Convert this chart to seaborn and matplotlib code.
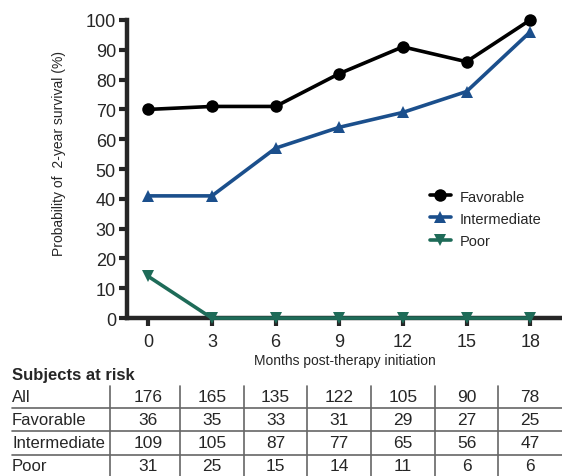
import matplotlib
matplotlib.use("Agg")
import matplotlib.pyplot as plt
import matplotlib.transforms as mtransforms
import pandas as pd
import seaborn as sns

# ── Data ──
months = [0, 3, 6, 9, 12, 15, 18]
favorable = [70, 71, 71, 82, 91, 86, 100]
intermediate = [41, 41, 57, 64, 69, 76, 96]
poor = [14, 0, 0, 0, 0, 0, 0]
groups = ["Favorable", "Intermediate", "Poor"]

risk_rows = ["All", "Favorable", "Intermediate", "Poor"]
risk_all = [176, 165, 135, 122, 105, 90, 78]
risk_fav = [36, 35, 33, 31, 29, 27, 25]
risk_int = [109, 105, 87, 77, 65, 56, 47]
risk_poor = [31, 25, 15, 14, 11, 6, 6]

colors = {"Favorable": "#000000", "Intermediate": "#1b4f8c", "Poor": "#1e6b58"}
markers = {"Favorable": "o", "Intermediate": "^", "Poor": "v"}

df = pd.DataFrame({
    "month": months * 3,
    "survival": favorable + intermediate + poor,
    "group": [g for g in groups for _ in months],
})

sns.set_style("ticks")
plt.rcParams["font.family"] = ["Liberation Sans", "DejaVu Sans"]

fig = plt.figure(figsize=(5.62, 4.77), dpi=100)
ax = fig.add_axes([0.226, 0.331, 0.774, 0.625])

sns.lineplot(data=df, x="month", y="survival", hue="group", style="group",
             palette=colors, markers=markers, dashes=False, linewidth=2.6,
             markersize=9, markeredgewidth=0, ax=ax, clip_on=False, zorder=3)

ax.set_xlim(-1, 19.5)
ax.set_ylim(0, 100)
ax.set_xticks(months)
ax.set_yticks(range(0, 101, 10))
ax.tick_params(axis="both", direction="out", length=6, width=3, labelsize=13, pad=2)
ax.tick_params(axis="x", pad=5)
for side in ["top", "right"]:
    ax.spines[side].set_visible(False)
for side in ["left", "bottom"]:
    ax.spines[side].set_linewidth(3.2)
ax.set_ylabel("Probability of  2-year survival (%)", fontsize=10)
ax.yaxis.set_label_coords(-0.14, 0.555)
ax.set_xlabel("Months post-therapy initiation", fontsize=10, labelpad=2)

handles, labels = ax.get_legend_handles_labels()
ax.legend(handles, labels, loc="upper left", bbox_to_anchor=(0.742, 0.628),
          bbox_transform=fig.transFigure, frameon=False, fontsize=10.5,
          handlelength=1.4, handletextpad=0.6, labelspacing=0.55)

# ── Subjects at risk table ──
trans = mtransforms.blended_transform_factory(ax.transData, fig.transFigure)
fig.text(12 / 562, 1 - 376 / 477, "Subjects at risk", fontsize=12,
         fontweight="bold", va="center", ha="left")

row_y = [398, 421, 444, 467]
for label, vals, y in zip(risk_rows, [risk_all, risk_fav, risk_int, risk_poor], row_y):
    yf = 1 - y / 477
    fig.text(12 / 562, yf, label, fontsize=12, va="center", ha="left")
    for m, v in zip(months, vals):
        ax.text(m, yf, str(v), transform=trans, fontsize=12.5, va="center", ha="center")

# grid lines of the table
line_kw = dict(color="#666666", linewidth=1.2, clip_on=False, transform=fig.transFigure)
for y in [409, 432, 456]:
    fig.add_artist(plt.Line2D([12 / 562, 1.0], [1 - y / 477] * 2, **line_kw))
sep_x = [-1.8] + [m + 1.5 for m in months[:-1]]
for sx in sep_x:
    fig.add_artist(plt.Line2D([sx, sx], [1 - 387 / 477, 0.0], color="#666666",
                              linewidth=1.2, clip_on=False, transform=trans))

fig.savefig("out.png", dpi=100)
